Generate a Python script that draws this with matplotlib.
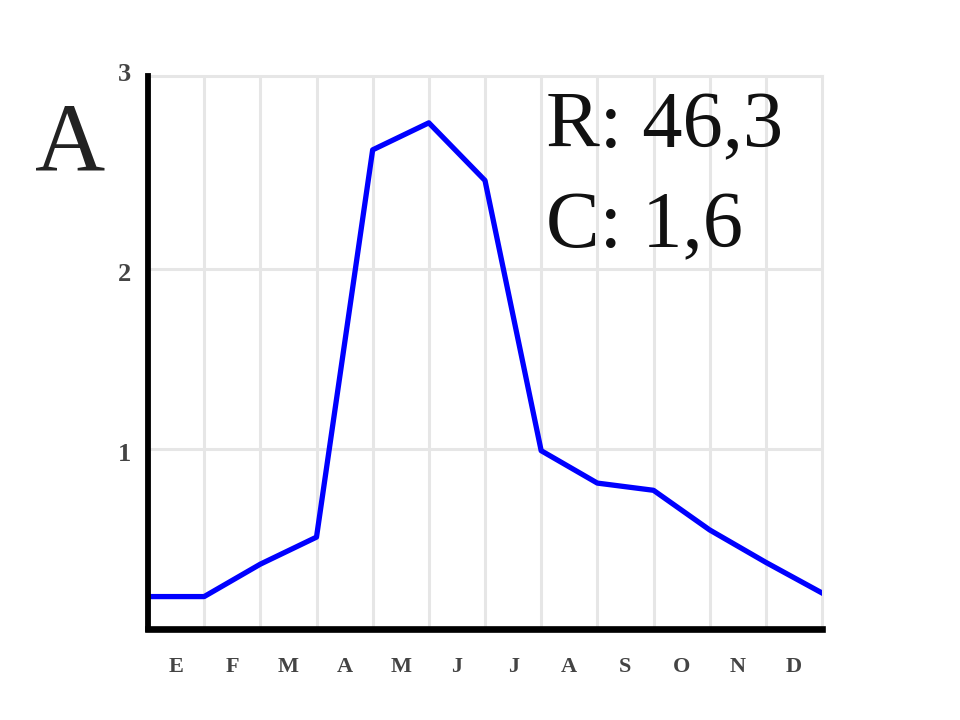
import matplotlib.pyplot as plt
import numpy as np

# month labels (Spanish initials) and values at month boundaries
months = ['E', 'F', 'M', 'A', 'M', 'J', 'J', 'A', 'S', 'O', 'N', 'D']
boundary_vals = [0.18, 0.18, 0.36, 0.51, 2.66, 2.81, 2.49, 0.99, 0.81, 0.77, 0.55, 0.37, 0.20]
ytick_vals = [1, 2, 3]
panel_label = 'A'
stat_lines = ['R: 46,3', 'C: 1,6']

serif = ['Liberation Serif', 'DejaVu Serif']

fig = plt.figure(figsize=(9.6, 7.2), dpi=100)
ax = fig.add_axes([148/960, 1 - 629/720, (822 - 148)/960, (629 - 76)/720])

x = np.arange(len(boundary_vals))
ax.plot(x, boundary_vals, color='#0000ff', lw=3.8, solid_joinstyle='round', zorder=3)

ax.set_xlim(0, 12)
ax.set_ylim(0, 3.07)

# grid
for xv in range(1, 12):
    ax.axvline(xv, color='#e6e6e6', lw=2.2, zorder=1)
for yv in ytick_vals[:2]:
    ax.axhline(yv, color='#e6e6e6', lw=2.2, zorder=1)

for s in ['top', 'right']:
    ax.spines[s].set_color('#e6e6e6')
    ax.spines[s].set_linewidth(2.2)
ax.spines['left'].set_linewidth(4.2)
ax.spines['bottom'].set_linewidth(4.8)
ax.spines['left'].set_zorder(4)
ax.spines['bottom'].set_zorder(4)

ax.set_xticks(np.arange(12) + 0.5)
ax.set_xticklabels(months, family=serif, fontsize=16, fontweight='bold', color='#444444')
ax.set_yticks([])
ax.tick_params(axis='x', length=0, pad=20)

for yv in ytick_vals:
    ypos = min(yv, 3.07)
    dy = 0.08 if yv == 3 else -0.03
    ax.text(-0.3, ypos + dy, str(yv), ha='right', va='center',
            family=serif, fontsize=19, fontweight='bold', color='#444444')

fig.text(70/960, 1 - 146/720, panel_label, ha='center', va='center',
         family=serif, fontsize=70, color='#222222')
fig.text(546/960, 1 - 128/720, stat_lines[0], ha='left', va='center',
         family=serif, fontsize=58, color='#111111')
fig.text(546/960, 1 - 228/720, stat_lines[1], ha='left', va='center',
         family=serif, fontsize=58, color='#111111')

fig.savefig('out.png', dpi=100)
